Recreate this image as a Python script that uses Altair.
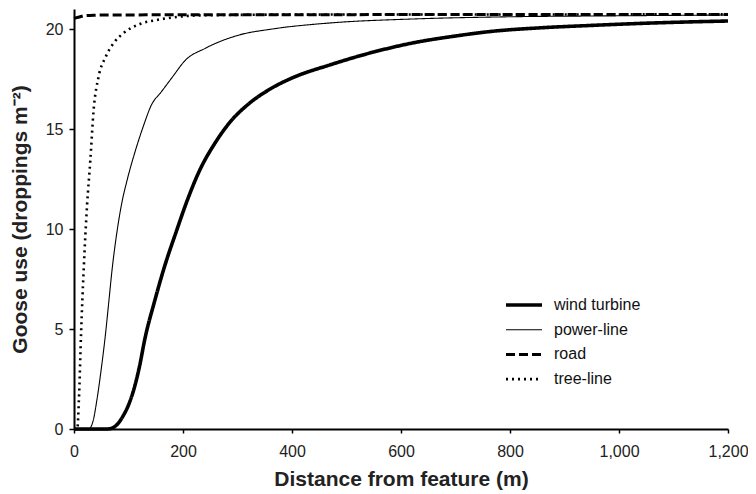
import altair as alt
import pandas as pd

features = ["wind turbine", "power-line", "road", "tree-line"]

wind_x = [0, 60, 70, 80, 90, 100, 110, 120, 130, 148, 167, 188, 206, 230, 260, 288, 318, 360, 400, 469, 550, 621, 700, 773, 850, 950, 1050, 1200]
wind_y = [0, 0, 0.05, 0.25, 0.65, 1.2, 2.0, 3.1, 4.5, 6.4, 8.2, 9.9, 11.3, 12.9, 14.35, 15.4, 16.2, 17.0, 17.55, 18.2, 18.85, 19.3, 19.65, 19.9, 20.05, 20.18, 20.29, 20.4]

power_x = [0, 27, 35, 42, 50, 58, 64, 70, 78, 87, 98, 113, 128, 142, 160, 182, 203, 242, 303, 364, 469, 621, 773, 1000, 1200]
power_y = [0, 0, 0.4, 1.45, 3.0, 4.8, 6.4, 8.0, 9.7, 11.2, 12.5, 13.95, 15.2, 16.2, 16.85, 17.65, 18.4, 19.05, 19.7, 20.0, 20.3, 20.5, 20.6, 20.66, 20.7]

road_x = [0, 10, 18, 40, 61, 200, 600, 1200]
road_y = [20.53, 20.6, 20.66, 20.69, 20.7, 20.71, 20.72, 20.73]

tree_x = [0, 6, 9, 13, 18, 24, 30, 36, 45, 58, 73, 91, 121, 152, 182, 230, 400, 1200]
tree_y = [0, 0, 1.45, 4.8, 8.1, 11.2, 13.45, 15.95, 17.6, 18.6, 19.3, 19.8, 20.25, 20.45, 20.58, 20.68, 20.72, 20.73]

series = {
    "wind turbine": (wind_x, wind_y),
    "power-line": (power_x, power_y),
    "road": (road_x, road_y),
    "tree-line": (tree_x, tree_y),
}

rows = []
for name, (xs, ys) in series.items():
    for i, (xv, yv) in enumerate(zip(xs, ys)):
        rows.append({"feature": name, "distance": xv, "use": yv, "order": i})
df = pd.DataFrame(rows)

x_ticks = [0, 200, 400, 600, 800, 1000, 1200]
y_ticks = [0, 5, 10, 15, 20]

font = "Liberation Sans"

legend_opts = dict(
    title=None,
    orient="none",
    legendX=430,
    legendY=286,
    symbolType="stroke",
    symbolSize=1296,
    symbolStrokeColor="black",
    labelFont=font,
    labelFontSize=16,
    labelColor="#111",
    labelOffset=10,
    clipHeight=20,
    rowPadding=4.7,
)

chart = (
    alt.Chart(df)
    .mark_line(interpolate="monotone", color="black")
    .encode(
        x=alt.X(
            "distance:Q",
            scale=alt.Scale(domain=[0, 1200], nice=False),
            axis=alt.Axis(
                values=x_ticks,
                format=",d",
                title="Distance from feature (m)",
                grid=False,
                labelFlush=False,
                labelPadding=10,
                tickSize=4,
            ),
        ),
        y=alt.Y(
            "use:Q",
            scale=alt.Scale(domain=[0, 21], nice=False),
            axis=alt.Axis(
                values=y_ticks,
                title="Goose use (droppings m\u207b\u00b2)",
                grid=False,
                labelPadding=6,
                tickSize=5,
            ),
        ),
        order="order:Q",
        detail="feature:N",
        strokeDash=alt.StrokeDash(
            "feature:N",
            scale=alt.Scale(domain=features, range=[[1, 0], [1, 0], [9, 4], [2, 4]]),
            legend=alt.Legend(**legend_opts),
        ),
        strokeWidth=alt.StrokeWidth(
            "feature:N",
            scale=alt.Scale(type="ordinal", domain=features, range=[3.6, 1.1, 3, 2.6]),
            legend=alt.Legend(**legend_opts),
        ),
    )
    .properties(
        width=654,
        height=420,
        autosize=alt.AutoSizeParams(type="none"),
        padding={"left": 66, "top": 1, "right": 20, "bottom": 65},
    )
    .configure_view(stroke=None)
    .configure_axis(
        domainColor="black",
        domainWidth=2,
        tickColor="black",
        tickWidth=1.5,
        labelFont=font,
        labelFontSize=16,
        labelColor="#222",
        titleFont=font,
        titleFontSize=21,
        titleFontWeight="bold",
        titleColor="#222",
    )
    .configure_axisX(titlePadding=9)
    .configure_axisY(titlePadding=15)
)

chart.save("out.html", embed_options={"renderer": "svg", "actions": False})
